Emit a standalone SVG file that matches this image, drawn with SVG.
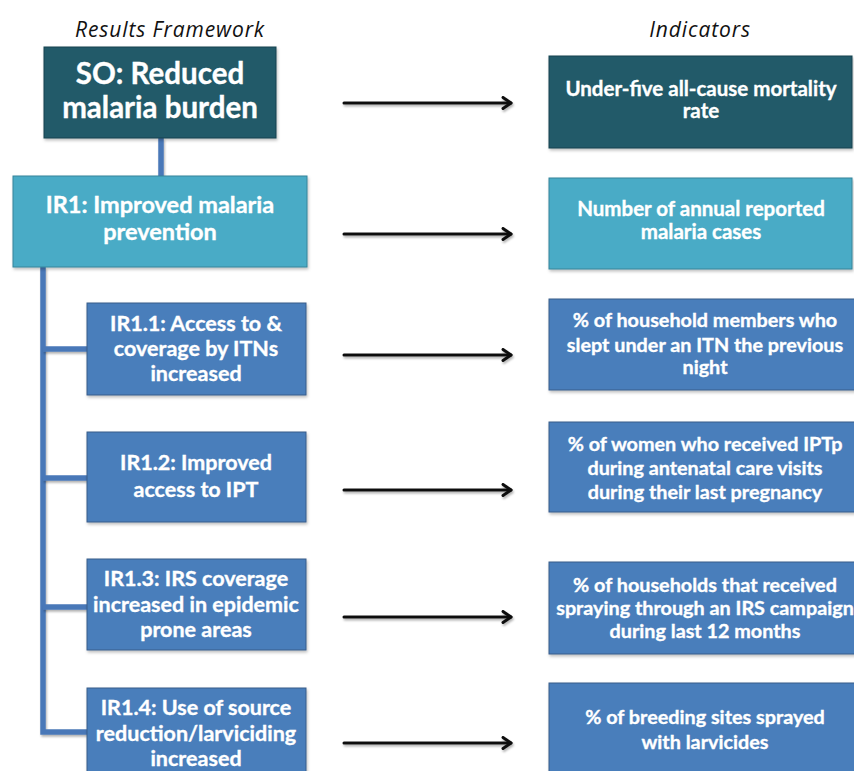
<svg xmlns="http://www.w3.org/2000/svg" width="854" height="771" viewBox="0 0 854 771">
  <defs>
    <filter id="shadow" x="-5%" y="-5%" width="115%" height="120%">
      <feDropShadow dx="1" dy="2" stdDeviation="1.5" flood-color="#000" flood-opacity="0.25"/>
    </filter>
    <!-- lines have a zero-size box, so their shadow works in canvas units -->
    <filter id="lineShadow" filterUnits="userSpaceOnUse" x="0" y="0" width="854" height="771">
      <feDropShadow dx="1" dy="2" stdDeviation="1.2" flood-color="#000" flood-opacity="0.3"/>
    </filter>
    <marker id="head" markerWidth="14" markerHeight="14" refX="11" refY="7" orient="auto" markerUnits="userSpaceOnUse">
      <path d="M3,1.5 L11,7 L3,12.5" fill="none" stroke="#111" stroke-width="3" stroke-linecap="round" stroke-linejoin="round"/>
    </marker>
    <style>
      .heading { font-family: "Open Sans", Lato, sans-serif; font-style: italic; font-size: 21px; letter-spacing: 0.9px; fill: #111; text-anchor: middle; }
      .so { fill: #215a69; stroke: #17434f; stroke-width: 1; filter: url(#shadow); }
      .ir { fill: #4aabc6; stroke: #35849a; stroke-width: 1; filter: url(#shadow); }
      .sub { fill: #4a7ebb; stroke: #385d8a; stroke-width: 1; filter: url(#shadow); }
      text.w { font-family: Lato, "Open Sans", sans-serif; font-weight: bold; fill: #fff; stroke: #fff; stroke-width: 0.35; text-anchor: middle; }
      .big { font-size: 29.5px; }
      .mid { font-size: 23.5px; }
      .kid { font-size: 21.5px; }
      .ind { font-size: 19.8px; }
      .top { font-size: 20.5px; }
      .tree { fill: none; stroke: #4a78b8; stroke-width: 5.5; filter: url(#lineShadow); }
      .arrow { fill: none; stroke: #111; stroke-width: 3; stroke-linecap: round; marker-end: url(#head); filter: url(#lineShadow); }
    </style>
  </defs>

  <rect width="854" height="771" fill="#fff"/>

  <!-- column headings -->
  <text class="heading" x="170" y="37">Results Framework</text>
  <text class="heading" x="700" y="37">Indicators</text>

  <!-- connectors -->
  <g id="connectors">
    <path class="tree" d="M161,138 V176"/>
    <path class="tree" d="M43,267 V732 H87"/>
    <path class="tree" d="M43,349 H87"/>
    <path class="tree" d="M43,478 H87"/>
    <path class="tree" d="M43,607 H87"/>
    <path class="arrow" d="M344,103 H511"/>
    <path class="arrow" d="M344,234 H511"/>
    <path class="arrow" d="M344,355 H511"/>
    <path class="arrow" d="M344,490 H511"/>
    <path class="arrow" d="M344,617 H511"/>
    <path class="arrow" d="M344,743 H511"/>
  </g>

  <!-- results framework -->
  <g id="so">
    <rect class="so" x="44" y="47" width="232" height="91"/>
    <text class="w big" x="160" y="84">SO: Reduced</text>
    <text class="w big" x="160" y="118">malaria burden</text>
  </g>
  <g id="ir1">
    <rect class="ir" x="13" y="176" width="294" height="91"/>
    <text class="w mid" x="160" y="213">IR1: Improved malaria</text>
    <text class="w mid" x="160" y="240">prevention</text>
  </g>
  <g id="ir1-1">
    <rect class="sub" x="87" y="303" width="219" height="92"/>
    <text class="w kid" x="196" y="331">IR1.1: Access to &amp;</text>
    <text class="w kid" x="196" y="356">coverage by ITNs</text>
    <text class="w kid" x="196" y="381">increased</text>
  </g>
  <g id="ir1-2">
    <rect class="sub" x="87" y="432" width="219" height="90"/>
    <text class="w kid" x="196" y="470">IR1.2: Improved</text>
    <text class="w kid" x="196" y="497">access to IPT</text>
  </g>
  <g id="ir1-3">
    <rect class="sub" x="87" y="559" width="219" height="91"/>
    <text class="w kid" x="196" y="586">IR1.3: IRS coverage</text>
    <text class="w kid" x="196" y="612">increased in epidemic</text>
    <text class="w kid" x="196" y="637">prone areas</text>
  </g>
  <g id="ir1-4">
    <rect class="sub" x="87" y="688" width="219" height="95"/>
    <text class="w kid" x="196" y="715">IR1.4: Use of source</text>
    <text class="w kid" x="196" y="741">reduction/larviciding</text>
    <text class="w kid" x="196" y="766">increased</text>
  </g>

  <!-- indicators -->
  <g id="ind-so">
    <rect class="so" x="549" y="56" width="303" height="92"/>
    <text class="w top" x="701" y="96">Under-five all-cause mortality</text>
    <text class="w top" x="701" y="118">rate</text>
  </g>
  <g id="ind-ir1">
    <rect class="ir" x="549" y="178" width="303" height="91"/>
    <text class="w top" x="701" y="216">Number of annual reported</text>
    <text class="w top" x="701" y="239">malaria cases</text>
  </g>
  <g id="ind-ir1-1">
    <rect class="sub" x="549" y="299" width="310" height="91"/>
    <text class="w ind" x="705" y="327">% of household members who</text>
    <text class="w ind" x="705" y="352">slept under an ITN the previous</text>
    <text class="w ind" x="705" y="374">night</text>
  </g>
  <g id="ind-ir1-2">
    <rect class="sub" x="549" y="422" width="310" height="90"/>
    <text class="w ind" x="705" y="451">% of women who received IPTp</text>
    <text class="w ind" x="705" y="475">during antenatal care visits</text>
    <text class="w ind" x="705" y="499">during their last pregnancy</text>
  </g>
  <g id="ind-ir1-3">
    <rect class="sub" x="549" y="562" width="310" height="92"/>
    <text class="w ind" x="705" y="592">% of households that received</text>
    <text class="w ind" x="705" y="615">spraying through an IRS campaign</text>
    <text class="w ind" x="705" y="638">during last 12 months</text>
  </g>
  <g id="ind-ir1-4">
    <rect class="sub" x="549" y="683" width="310" height="100"/>
    <text class="w ind" x="705" y="724">% of breeding sites sprayed</text>
    <text class="w ind" x="705" y="749">with larvicides</text>
  </g>
</svg>
